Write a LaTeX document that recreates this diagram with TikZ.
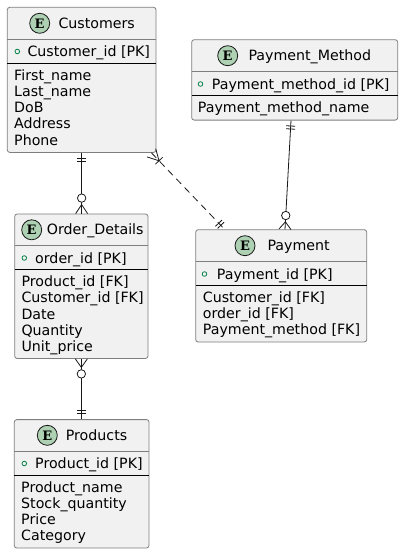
\documentclass[tikz,border=0pt]{standalone}
\usepackage{fontspec}
\setmainfont{DejaVu Sans}
\newfontfamily\efont{DejaVu Serif}
\usetikzlibrary{calc}
\definecolor{boxfill}{HTML}{F1F1F1}
\definecolor{boxline}{HTML}{181818}
\definecolor{boxedge}{HTML}{7E7E7E}
\definecolor{ecirc}{HTML}{ADD1B2}
\definecolor{pkgreen}{HTML}{038048}
\tikzset{
 entity/.style={draw=boxedge, line width=0.8pt, fill=boxfill, rounded corners=2.5pt, inner sep=0pt, rectangle},
 lbl/.style={anchor=base west, inner sep=0pt, font=\fontsize{14.2}{16}\selectfont},
 hsep/.style={draw=boxedge, line width=0.8pt},
 asep/.style={draw=black, line width=1pt},
 emark/.style={circle, draw=boxline, line width=0.8pt, fill=ecirc, minimum size=20pt, inner sep=0pt, font=\efont\bfseries\fontsize{13}{13}\selectfont},
 pkmark/.style={circle, draw=pkgreen, line width=0.8pt, minimum size=4.6pt, inner sep=0pt},
 rel/.style={draw=boxline, line width=0.8pt},
 dashrel/.style={rel, dash pattern=on 7pt off 5pt},
 cmark/.style={circle, draw=boxline, line width=0.8pt, fill=white, minimum size=8.4pt, inner sep=0pt},
}
\newcounter{tn}
\newcommand\tx[3]{\stepcounter{tn}\node[lbl] (t\arabic{tn}) at (#1,{#2+5}) {#3};}
\newcommand\entbox[5]{\node[entity, minimum width={(#4-#2)*1pt}, minimum height={(#5-#3)*1pt}] (#1) at ({(#2+#4)/2},{(#3+#5)/2}) {};}
\newcommand\twobars[2]{%
 \draw[rel] ($(#1)!5.5pt!(#2)!4.5pt!90:(#2)$) -- ($(#1)!5.5pt!(#2)!4.5pt!-90:(#2)$);
 \draw[rel] ($(#1)!8.5pt!(#2)!4.5pt!90:(#2)$) -- ($(#1)!8.5pt!(#2)!4.5pt!-90:(#2)$);}
\newcommand\crow[3]{%
 \draw[rel] ($(#1)!#3pt!(#2)$) -- ($(#1)!6pt!-90:(#2)$);
 \draw[rel] ($(#1)!#3pt!(#2)$) -- ($(#1)!6pt!90:(#2)$);}
\begin{document}
\begin{tikzpicture}[x=1pt,y=-1pt]
\useasboundingbox (0,0) rectangle (404,554);

% ---------- Customers ----------
\entbox{cust}{7.3}{7.3}{156}{152.4}
\node[emark] (ecust) at (39.7,23.3) {E};
\tx{58.3}{23.3}{Customers}
\draw[hsep] (7.3,39) -- (156,39);
\node[pkmark] (pcust) at (17.3,51.5) {};
\tx{27.3}{51.5}{Customer\_id [PK]}
\draw[asep] (7.3,63.3) -- (156,63.3);
\tx{14}{75.6}{First\_name}
\tx{14}{91.7}{Last\_name}
\tx{14}{107.8}{DoB}
\tx{14}{123.9}{Address}
\tx{14}{140}{Phone}

% ---------- Payment_Method ----------
\entbox{pm}{191.7}{39.7}{397.7}{120.1}
\node[emark] (epm) at (227.7,55.7) {E};
\tx{248.3}{55.7}{Payment\_Method}
\draw[hsep] (191.7,71.2) -- (397.7,71.2);
\node[pkmark] (ppm) at (200.5,84) {};
\tx{211.7}{84}{Payment\_method\_id [PK]}
\draw[asep] (191.7,95.4) -- (397.7,95.4);
\tx{197.7}{107.7}{Payment\_method\_name}

% ---------- Payment ----------
\entbox{pay}{195.7}{229.7}{366.7}{342}
\node[emark] (epay) at (245,245.7) {E};
\tx{267.3}{245.7}{Payment}
\draw[hsep] (195.7,261) -- (366.7,261);
\node[pkmark] (ppay) at (204.5,274) {};
\tx{216.7}{274}{Payment\_id [PK]}
\draw[asep] (195.7,285.2) -- (366.7,285.2);
\tx{202.7}{297.5}{Customer\_id [FK]}
\tx{202.7}{313.6}{order\_id [FK]}
\tx{202.7}{329.7}{Payment\_method [FK]}

% ---------- Order_Details ----------
\entbox{od}{14.7}{214}{148}{358.5}
\node[emark] (eod) at (31.7,229.8) {E};
\tx{46.7}{229.8}{Order\_Details}
\draw[hsep] (14.7,245.6) -- (148,245.6);
\node[pkmark] (pod) at (24.3,258) {};
\tx{35}{258}{order\_id [PK]}
\draw[asep] (14.7,269.6) -- (148,269.6);
\tx{21.3}{281.8}{Product\_id [FK]}
\tx{21.3}{297.9}{Customer\_id [FK]}
\tx{21.3}{314}{Date}
\tx{21.3}{330.1}{Quantity}
\tx{21.3}{346.2}{Unit\_price}

% ---------- Products ----------
\entbox{prod}{14.3}{419.6}{149}{548}
\node[emark] (eprod) at (47.3,435.3) {E};
\tx{65.7}{435.3}{Products}
\draw[hsep] (14.3,451.4) -- (149,451.4);
\node[pkmark] (pprod) at (24.3,463.5) {};
\tx{35}{463.5}{Product\_id [PK]}
\draw[asep] (14.3,475.3) -- (149,475.3);
\tx{21}{487.6}{Product\_name}
\tx{21}{503.7}{Stock\_quantity}
\tx{21}{519.8}{Price}
\tx{21}{535.9}{Category}

% ---------- Relations ----------
% Customers ||--o{ Order_Details
\coordinate (r1a) at (cust.south);
\coordinate (r1b) at (cust.south |- od.north);
\draw[rel] (r1a) -- (r1b);
\twobars{r1a}{r1b}
\crow{r1b}{r1a}{9}
\node[cmark] (c1) at ($(r1b)!15.5pt!(r1a)$) {};

% Order_Details }o--|| Products
\coordinate (r2a) at (od.south);
\coordinate (r2b) at (od.south |- prod.north);
\draw[rel] (r2a) -- (r2b);
\crow{r2a}{r2b}{8.5}
\node[cmark] (c2) at ($(r2a)!15pt!(r2b)$) {};
\twobars{r2b}{r2a}

% Payment_Method ||--o{ Payment
\coordinate (r3a) at ($(pm.south)+(-3.7,0)$);
\coordinate (r3b) at ($(pay.north)+(3.8,0)$);
\draw[rel] (r3a) -- (r3b);
\twobars{r3a}{r3b}
\crow{r3b}{r3a}{7.5}
\node[cmark] (c3) at ($(r3b)!13.8pt!(r3a)$) {};

% Customers }|..|| Payment
\coordinate (r4a) at ($(cust.south east)+(-5,0)$);
\coordinate (r4b) at ($(pay.north west)+(29.3,0)$);
\draw[dashrel] (r4a) -- (r4b);
\crow{r4a}{r4b}{11}
\draw[rel] ($(r4a)!11pt!(r4b)!5pt!90:(r4b)$) -- ($(r4a)!11pt!(r4b)!5pt!-90:(r4b)$);
\twobars{r4b}{r4a}
\end{tikzpicture}
\end{document}
